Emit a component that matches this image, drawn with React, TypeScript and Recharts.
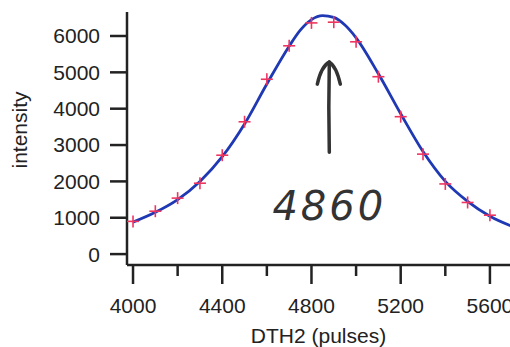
import { ComposedChart, Line, Scatter, XAxis, YAxis, ReferenceLine, ReferenceDot } from "recharts";

// measured points (red crosses)
const pulses = [4000, 4100, 4200, 4300, 4400, 4500, 4600, 4700, 4800, 4900, 5000, 5100, 5200, 5300, 5400, 5500, 5600];
const measured = [900, 1180, 1540, 1950, 2720, 3640, 4810, 5730, 6360, 6380, 5840, 4880, 3780, 2750, 1930, 1420, 1070];

// fitted curve (blue line)
const fitPulses = [4000, 4100, 4200, 4300, 4400, 4500, 4600, 4700, 4750, 4800, 4850, 4900, 4950, 5000, 5100, 5200, 5300, 5400, 5500, 5600, 5700];
const fitValues = [880, 1150, 1500, 2000, 2680, 3580, 4680, 5720, 6160, 6450, 6560, 6510, 6300, 5950, 4960, 3860, 2820, 2000, 1450, 1040, 760];

const yTicks = [0, 1000, 2000, 3000, 4000, 5000, 6000];
const xTicks = [4000, 4200, 4400, 4600, 4800, 5000, 5200, 5400, 5600];
const xLabelled = [4000, 4400, 4800, 5200, 5600];

const peakPulse = 4880;
const peakText = "4860";

const crossData = pulses.map((p, i) => ({ x: p, y: measured[i] }));
const fitData = fitPulses.map((p, i) => ({ x: p, y: fitValues[i] }));

const ink = "#222";
const font = "'Liberation Sans', Arial, sans-serif";

function XTick(props: any) {
  const { x, y, payload } = props;
  const major = xLabelled.includes(payload.value);
  return (
    <g>
      <line x1={x} x2={x} y1={y} y2={y + (major ? 19 : 11)} stroke={ink} strokeWidth={2.5} />
      {major && (
        <text x={x} y={y + 48} textAnchor="middle" fontSize={21} fill={ink} fontFamily={font}>
          {payload.value}
        </text>
      )}
    </g>
  );
}

function Cross(props: any) {
  const { cx, cy } = props;
  return (
    <g stroke="#ee3560" strokeWidth={1.6}>
      <line x1={cx - 6} x2={cx + 6} y1={cy} y2={cy} />
      <line x1={cx} x2={cx} y1={cy - 6} y2={cy + 6} />
    </g>
  );
}

function Arrow(props: any) {
  const { x1, y1, y2 } = props;
  const top = Math.min(y1, y2);
  const bottom = Math.max(y1, y2);
  const x = x1;
  return (
    <g stroke="#333" strokeWidth={3.5} fill="none" strokeLinecap="round">
      <path d={`M${x},${bottom} Q${x - 1},${(top + bottom) / 2} ${x},${top}`} />
      <path d={`M${x - 12},${top + 22} Q${x - 8},${top + 4} ${x},${top}`} />
      <path d={`M${x + 11},${top + 22} Q${x + 7},${top + 4} ${x},${top}`} />
    </g>
  );
}

function Handwritten(props: any) {
  const { cx, cy } = props;
  return (
    <text x={cx} y={cy} textAnchor="middle" fontSize={40} fill="#333" fontStyle="italic"
      fontFamily="'DejaVu Sans', sans-serif" letterSpacing={3}>
      {peakText}
    </text>
  );
}

function YTitle() {
  return (
    <text x={27} y={130} transform="rotate(-90 27 130)" textAnchor="middle" fontSize={21} fill={ink} fontFamily={font}>
      intensity
    </text>
  );
}

export default function App() {
  return (
    <div style={{ width: 510, height: 347, background: "#fff" }}>
      <style>{`body{margin:0}`}</style>
      <ComposedChart width={510} height={347} margin={{ top: 12, right: 0, bottom: 0, left: 0 }}>
        <XAxis
          type="number"
          dataKey="x"
          domain={[3973, 5690]}
          allowDataOverflow
          ticks={xTicks}
          interval={0}
          tick={<XTick />}
          tickSize={0}
          tickMargin={0}
          tickLine={false}
          axisLine={{ stroke: ink, strokeWidth: 2.5 }}
          height={82}
          label={{ value: "DTH2 (pulses)", position: "insideBottom", offset: 4, fontSize: 21, fill: ink, fontFamily: font }}
        />
        <YAxis
          type="number"
          dataKey="y"
          domain={[-300, 6660]}
          allowDataOverflow
          ticks={yTicks}
          interval={0}
          width={127}
          tickSize={17}
          tickMargin={10}
          tickLine={{ stroke: ink, strokeWidth: 2.5 }}
          axisLine={{ stroke: ink, strokeWidth: 2.5 }}
          tick={{ fontSize: 21, fill: ink, fontFamily: font }}
          label={<YTitle />}
        />
        <Line
          data={fitData}
          dataKey="y"
          type="monotone"
          stroke="#1f38b4"
          strokeWidth={2.8}
          dot={false}
          isAnimationActive={false}
        />
        <Scatter data={crossData} dataKey="y" shape={<Cross />} isAnimationActive={false} />
        <ReferenceLine
          segment={[{ x: peakPulse, y: 2800 }, { x: peakPulse, y: 5280 }]}
          shape={<Arrow />}
        />
        <ReferenceDot x={peakPulse} y={930} r={0} shape={<Handwritten />} />
      </ComposedChart>
    </div>
  );
}
